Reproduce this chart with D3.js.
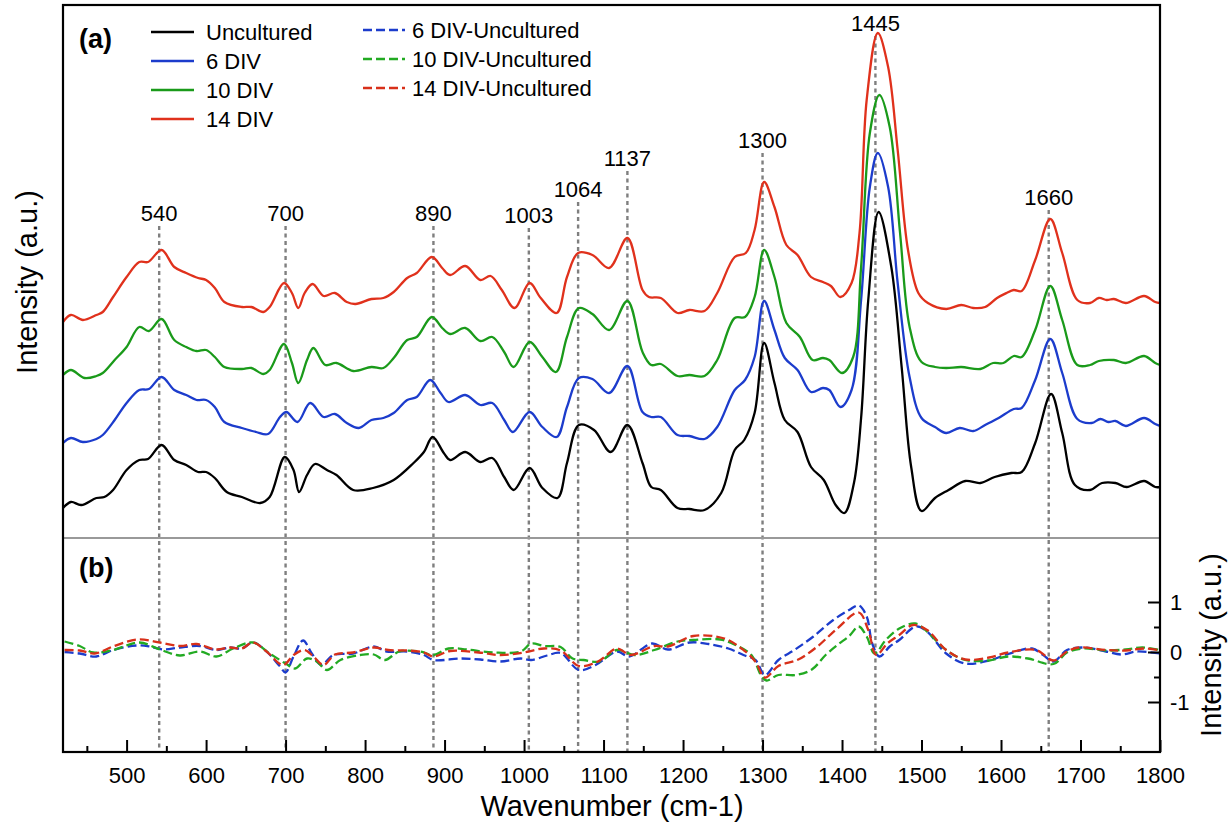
<!DOCTYPE html>
<html>
<head>
<meta charset="utf-8">
<script src="https://cdn.jsdelivr.net/npm/d3@7"></script>
<style>
  body { margin: 0; background: #fff; }
  svg text { font-family: "Liberation Sans", Arial, Helvetica, sans-serif; fill: #000; }
</style>
</head>
<body>
<svg id="chart" width="1231" height="830"></svg>
<script>
// ---- data: [wavenumber, intensity a.u.] (panel a spectra are shown offset) ----
const uncultured = [[420,0.30],[430,0.36],[443,0.33],[462,0.40],[472,0.41],[483,0.48],[500,0.68],[516,0.78],[527,0.79],[544,0.93],[560,0.78],[575,0.73],[590,0.66],[600,0.66],[611,0.60],[626,0.46],[645,0.41],[668,0.35],[680,0.41],[699,0.81],[710,0.68],[717,0.46],[727,0.63],[737,0.74],[752,0.68],[764,0.63],[785,0.48],[810,0.50],[836,0.58],[861,0.75],[874,0.86],[885,1.01],[899,0.85],[907,0.78],[926,0.86],[945,0.76],[960,0.80],[975,0.61],[987,0.48],[1007,0.70],[1023,0.50],[1042,0.40],[1054,0.75],[1069,1.13],[1088,1.08],[1109,0.86],[1130,1.13],[1149,0.75],[1160,0.51],[1172,0.48],[1193,0.30],[1208,0.29],[1227,0.28],[1248,0.45],[1265,0.88],[1277,0.98],[1290,1.25],[1302,1.95],[1315,1.55],[1328,1.18],[1344,1.06],[1361,0.71],[1377,0.58],[1392,0.33],[1403,0.25],[1415,0.55],[1424,1.20],[1433,2.38],[1446,3.26],[1462,2.71],[1475,1.71],[1487,0.71],[1500,0.27],[1517,0.40],[1534,0.48],[1555,0.57],[1574,0.55],[1592,0.61],[1613,0.65],[1626,0.66],[1643,0.95],[1663,1.44],[1677,1.05],[1693,0.53],[1712,0.48],[1727,0.55],[1744,0.55],[1758,0.51],[1780,0.57],[1794,0.51],[1800,0.51]];

const div6 = [[420,0.95],[430,1.00],[445,0.96],[462,0.99],[470,1.03],[485,1.18],[500,1.35],[516,1.48],[528,1.49],[544,1.61],[560,1.48],[575,1.43],[588,1.38],[600,1.38],[611,1.31],[623,1.16],[645,1.10],[663,1.06],[678,1.04],[693,1.21],[701,1.26],[715,1.16],[731,1.35],[748,1.21],[762,1.24],[777,1.15],[792,1.10],[808,1.18],[823,1.20],[836,1.25],[853,1.38],[865,1.41],[882,1.58],[895,1.45],[905,1.36],[926,1.43],[945,1.33],[960,1.35],[975,1.18],[986,1.06],[1007,1.26],[1023,1.11],[1041,1.01],[1054,1.31],[1069,1.60],[1086,1.59],[1107,1.45],[1130,1.72],[1149,1.26],[1160,1.21],[1172,1.21],[1193,1.03],[1208,1.02],[1227,0.99],[1243,1.11],[1265,1.48],[1278,1.58],[1290,1.81],[1302,2.37],[1315,2.08],[1328,1.80],[1344,1.68],[1361,1.46],[1376,1.50],[1384,1.48],[1398,1.31],[1412,1.48],[1424,2.38],[1435,3.51],[1445,3.85],[1458,3.51],[1470,2.55],[1485,1.61],[1500,1.20],[1517,1.11],[1531,1.05],[1548,1.10],[1565,1.07],[1580,1.13],[1597,1.20],[1616,1.29],[1626,1.30],[1643,1.58],[1662,1.99],[1677,1.65],[1696,1.19],[1714,1.15],[1725,1.19],[1735,1.16],[1744,1.17],[1757,1.12],[1780,1.20],[1794,1.14],[1800,1.12]];

const div10 = [[420,1.63],[430,1.68],[447,1.60],[462,1.62],[470,1.65],[485,1.78],[500,1.91],[516,2.11],[528,2.07],[544,2.19],[560,1.98],[575,1.91],[588,1.87],[600,1.88],[611,1.81],[623,1.71],[645,1.69],[657,1.70],[672,1.64],[680,1.68],[698,1.94],[708,1.75],[716,1.55],[727,1.78],[735,1.90],[750,1.73],[764,1.75],[785,1.67],[808,1.71],[823,1.70],[836,1.80],[853,1.98],[865,2.01],[884,2.21],[897,2.10],[907,2.04],[926,2.10],[945,1.97],[960,2.01],[975,1.86],[987,1.71],[1007,1.96],[1023,1.81],[1040,1.66],[1054,2.01],[1069,2.30],[1086,2.24],[1107,2.08],[1130,2.37],[1149,1.86],[1160,1.73],[1172,1.74],[1193,1.62],[1208,1.63],[1227,1.62],[1243,1.78],[1265,2.20],[1278,2.21],[1290,2.41],[1302,2.88],[1315,2.61],[1330,2.15],[1347,2.01],[1363,1.78],[1376,1.80],[1384,1.78],[1400,1.65],[1414,1.81],[1424,2.71],[1435,4.05],[1447,4.43],[1460,4.11],[1473,3.05],[1485,2.11],[1500,1.76],[1517,1.71],[1531,1.70],[1550,1.71],[1574,1.69],[1590,1.75],[1603,1.75],[1616,1.82],[1626,1.81],[1643,2.08],[1662,2.52],[1677,2.18],[1696,1.73],[1712,1.73],[1723,1.77],[1742,1.78],[1757,1.75],[1780,1.82],[1794,1.75],[1800,1.73]];

const div14 = [[420,2.16],[430,2.23],[445,2.18],[462,2.23],[470,2.26],[483,2.41],[500,2.61],[516,2.76],[527,2.76],[544,2.88],[560,2.71],[575,2.65],[590,2.60],[600,2.58],[611,2.50],[623,2.36],[645,2.31],[657,2.31],[672,2.26],[680,2.31],[698,2.55],[708,2.45],[716,2.30],[724,2.45],[734,2.54],[748,2.42],[762,2.45],[777,2.36],[788,2.34],[808,2.39],[823,2.40],[836,2.46],[853,2.60],[865,2.65],[884,2.81],[897,2.70],[907,2.63],[926,2.72],[945,2.58],[958,2.62],[972,2.48],[988,2.30],[1007,2.55],[1021,2.40],[1041,2.25],[1054,2.61],[1068,2.85],[1086,2.83],[1107,2.70],[1130,3.00],[1149,2.48],[1157,2.41],[1172,2.40],[1193,2.25],[1208,2.28],[1227,2.27],[1243,2.45],[1265,2.81],[1279,2.85],[1290,3.08],[1302,3.56],[1315,3.31],[1330,2.93],[1344,2.83],[1361,2.61],[1376,2.56],[1386,2.52],[1398,2.41],[1412,2.55],[1422,3.05],[1431,4.38],[1445,5.05],[1458,4.71],[1470,3.88],[1483,2.88],[1496,2.45],[1508,2.35],[1531,2.29],[1550,2.33],[1565,2.30],[1580,2.31],[1595,2.40],[1607,2.45],[1616,2.48],[1626,2.47],[1643,2.78],[1662,3.19],[1677,2.85],[1696,2.38],[1712,2.35],[1723,2.40],[1733,2.38],[1742,2.39],[1757,2.35],[1780,2.42],[1794,2.36],[1800,2.35]];

const diff6 = [[422,0.00],[441,-0.03],[462,-0.09],[483,0.04],[512,0.13],[529,0.11],[546,0.05],[567,0.09],[592,0.12],[613,0.04],[630,0.09],[645,0.07],[659,0.19],[676,0.01],[693,-0.29],[700,-0.41],[710,-0.09],[722,0.23],[733,-0.03],[745,-0.26],[760,-0.06],[785,-0.03],[811,0.11],[827,0.01],[853,0.01],[874,-0.06],[886,-0.16],[920,-0.13],[945,-0.15],[970,-0.19],[996,-0.13],[1009,-0.16],[1029,-0.07],[1046,-0.02],[1069,-0.36],[1090,-0.26],[1117,0.01],[1132,-0.09],[1161,0.17],[1181,0.05],[1208,0.19],[1232,0.16],[1257,0.07],[1276,-0.06],[1291,-0.16],[1303,-0.46],[1320,-0.16],[1340,0.04],[1364,0.31],[1389,0.64],[1409,0.84],[1421,0.93],[1431,0.71],[1438,0.17],[1447,-0.09],[1460,0.11],[1472,0.24],[1493,0.51],[1507,0.41],[1531,-0.03],[1555,-0.23],[1585,-0.17],[1609,-0.04],[1639,0.07],[1653,-0.06],[1666,-0.19],[1683,0.04],[1703,0.09],[1732,0.01],[1752,-0.05],[1771,0.01],[1800,-0.03]];

const diff10 = [[422,0.21],[441,0.12],[458,-0.01],[483,0.04],[516,0.19],[542,0.05],[567,-0.07],[592,0.01],[613,-0.09],[634,0.07],[659,0.19],[680,-0.03],[701,-0.24],[712,-0.33],[727,-0.13],[739,-0.19],[752,-0.36],[769,-0.16],[794,-0.06],[811,-0.05],[825,-0.16],[843,0.01],[869,0.01],[886,-0.06],[905,0.07],[928,0.05],[962,-0.01],[996,0.01],[1009,0.17],[1025,0.12],[1046,0.10],[1061,-0.13],[1075,-0.16],[1095,-0.19],[1117,0.04],[1139,-0.06],[1164,0.04],[1193,0.21],[1213,0.24],[1247,0.25],[1266,0.14],[1286,-0.06],[1298,-0.46],[1305,-0.57],[1320,-0.46],[1342,-0.46],[1362,-0.35],[1380,-0.05],[1395,0.15],[1409,0.32],[1421,0.51],[1431,0.31],[1441,-0.03],[1455,0.24],[1472,0.47],[1492,0.57],[1507,0.41],[1531,0.04],[1555,-0.16],[1585,-0.17],[1609,-0.09],[1634,-0.13],[1666,-0.24],[1683,-0.01],[1703,0.07],[1732,0.03],[1757,0.05],[1778,0.09],[1800,0.04]];

const diff14 = [[422,0.04],[441,0.03],[460,-0.03],[483,0.11],[514,0.25],[542,0.19],[567,0.12],[588,0.16],[613,0.05],[630,0.09],[645,0.07],[659,0.19],[676,0.01],[697,-0.26],[710,-0.06],[724,0.04],[735,-0.09],[748,-0.26],[762,-0.05],[785,-0.01],[811,0.09],[829,0.04],[853,0.03],[874,-0.01],[886,-0.09],[907,0.02],[943,-0.01],[970,-0.06],[1000,-0.01],[1025,0.07],[1046,0.03],[1069,-0.28],[1093,-0.19],[1117,0.07],[1134,-0.06],[1164,0.12],[1181,0.11],[1213,0.32],[1252,0.27],[1276,0.04],[1291,-0.19],[1303,-0.51],[1320,-0.28],[1345,-0.15],[1369,0.11],[1394,0.47],[1421,0.79],[1433,0.44],[1443,-0.06],[1457,0.17],[1472,0.34],[1489,0.54],[1507,0.44],[1531,0.04],[1555,-0.15],[1585,-0.11],[1609,-0.01],[1644,0.04],[1666,-0.17],[1683,0.01],[1698,0.09],[1732,0.04],[1757,0.03],[1781,0.07],[1800,0.03]];

const peakPos = [541, 700, 886, 1006, 1068, 1130, 1300, 1442, 1660];
const peakText = ["540", "700", "890", "1003", "1064", "1137", "1300", "1445", "1660"];
const peakLabelLevel = [3.17, 3.17, 3.17, 3.15, 3.41, 3.72, 3.90, 5.07, 3.33];

const xTicks = [500, 600, 700, 800, 900, 1000, 1100, 1200, 1300, 1400, 1500, 1600, 1700, 1800];
const bTicks = [-1, 0, 1];

const spectraNames = ["Uncultured", "6 DIV", "10 DIV", "14 DIV"];
const diffNames = ["6 DIV-Uncultured", "10 DIV-Uncultured", "14 DIV-Uncultured"];
const colors = ["#000000", "#1c3ccc", "#1a9a1a", "#e0311c"];
const diffColors = ["#1c3ccc", "#22aa22", "#d8301a"];

// ---- layout ----
const L = 63, R = 1160, T = 5, B = 752, SEP = 538;
const svg = d3.select("#chart");

const x = d3.scaleLinear().domain([420, 1800]).range([L, R]);
const ya = d3.scaleLinear().domain([0, 5.33]).range([SEP, T]);
const yb = d3.scaleLinear().domain([-2, 2.28]).range([B, SEP]);

const defs = svg.append("defs");
defs.append("clipPath").attr("id", "clipA")
  .append("rect").attr("x", L).attr("y", T).attr("width", R - L).attr("height", SEP - T);
defs.append("clipPath").attr("id", "clipB")
  .append("rect").attr("x", L).attr("y", SEP).attr("width", R - L).attr("height", B - SEP);

// peak marker lines
const peaks = peakPos.map((p, i) => ({ p: p, t: peakText[i], lv: peakLabelLevel[i] }));
svg.append("g").selectAll("line").data(peaks).enter().append("line")
  .attr("x1", d => x(d.p)).attr("x2", d => x(d.p))
  .attr("y1", d => ya(d.lv) + 5).attr("y2", B)
  .attr("stroke", "#7f7f7f").attr("stroke-width", 2.4)
  .attr("stroke-dasharray", "4,3.5");
svg.append("g").selectAll("text").data(peaks).enter().append("text")
  .attr("x", d => x(d.p)).attr("y", d => ya(d.lv))
  .attr("text-anchor", "middle").style("font-size", "22px")
  .text(d => d.t);

// panel (a) spectra
const lineA = d3.line().curve(d3.curveCatmullRom.alpha(0.5))
  .x(d => x(d[0])).y(d => ya(d[1]));
const gA = svg.append("g").attr("clip-path", "url(#clipA)");
[uncultured, div6, div10, div14].forEach((s, i) => {
  gA.append("path").datum(s)
    .attr("d", lineA)
    .attr("fill", "none")
    .attr("stroke", colors[i])
    .attr("stroke-width", 2.3)
    .attr("stroke-linejoin", "round");
});

// panel (b) differences
const lineB = d3.line().curve(d3.curveCatmullRom.alpha(0.5))
  .x(d => x(d[0])).y(d => yb(d[1]));
const gB = svg.append("g").attr("clip-path", "url(#clipB)");
[diff6, diff10, diff14].forEach((s, i) => {
  gB.append("path").datum(s)
    .attr("d", lineB)
    .attr("fill", "none")
    .attr("stroke", diffColors[i])
    .attr("stroke-width", 2.3)
    .attr("stroke-dasharray", "9,4");
});

// separator between panels
svg.append("line").attr("x1", L).attr("x2", R).attr("y1", SEP).attr("y2", SEP)
  .attr("stroke", "#999").attr("stroke-width", 2);

// x axis
const xAxis = svg.append("g").attr("transform", `translate(0,${B})`)
  .call(d3.axisBottom(x).tickValues(xTicks).tickSize(-12).tickPadding(15).tickFormat(d3.format("d")));
svg.append("g").attr("transform", `translate(0,${B})`)
  .call(d3.axisBottom(x).tickValues(d3.range(450, 1800, 100)).tickSize(-6).tickFormat(""));

// right axis for panel (b)
const yAxis = svg.append("g").attr("transform", `translate(${R},0)`)
  .call(d3.axisRight(yb).tickValues(bTicks).tickSize(-12).tickPadding(10).tickFormat(d3.format("d")));
svg.append("g").attr("transform", `translate(${R},0)`)
  .call(d3.axisRight(yb).tickValues([-0.5, 0.5]).tickSize(-6).tickFormat(""));

svg.selectAll(".domain").remove();
svg.selectAll(".tick line").attr("stroke", "#000").attr("stroke-width", 2);
svg.selectAll(".tick text").style("font-size", "22px")
  .style("font-family", "'Liberation Sans', Arial, Helvetica, sans-serif");
yAxis.selectAll(".tick text").text(d => d < 0 ? "-" + Math.abs(d) : d);

// frame
svg.append("rect").attr("x", L).attr("y", T).attr("width", R - L).attr("height", B - T)
  .attr("fill", "none").attr("stroke", "#000").attr("stroke-width", 2.2);

// axis titles
svg.append("text").attr("transform", "translate(37,282) rotate(-90)")
  .attr("text-anchor", "middle").style("font-size", "29px").text("Intensity (a.u.)");
svg.append("text").attr("transform", "translate(1221,645) rotate(-90)")
  .attr("text-anchor", "middle").style("font-size", "29px").text("Intensity (a.u.)");
svg.append("text").attr("x", 612).attr("y", 816)
  .attr("text-anchor", "middle").style("font-size", "29px").text("Wavenumber (cm-1)");

// panel tags
svg.append("text").attr("x", 79).attr("y", 48).style("font-size", "27px")
  .style("font-weight", "bold").text("(a)");
svg.append("text").attr("x", 79).attr("y", 577).style("font-size", "27px")
  .style("font-weight", "bold").text("(b)");

// legend
const leg1 = svg.append("g");
spectraNames.forEach((n, i) => {
  const yy = 32 + i * 29;
  leg1.append("line").attr("x1", 151).attr("x2", 194).attr("y1", yy).attr("y2", yy)
    .attr("stroke", colors[i]).attr("stroke-width", 2.3);
  leg1.append("text").attr("x", 206).attr("y", yy + 8).style("font-size", "22px").text(n);
});
const leg2 = svg.append("g");
diffNames.forEach((n, i) => {
  const yy = 30 + i * 29;
  leg2.append("line").attr("x1", 363).attr("x2", 405).attr("y1", yy).attr("y2", yy)
    .attr("stroke", diffColors[i]).attr("stroke-width", 2.3).attr("stroke-dasharray", "9,4");
  leg2.append("text").attr("x", 412).attr("y", yy + 8).style("font-size", "22px").text(n);
});
</script>
</body>
</html>
